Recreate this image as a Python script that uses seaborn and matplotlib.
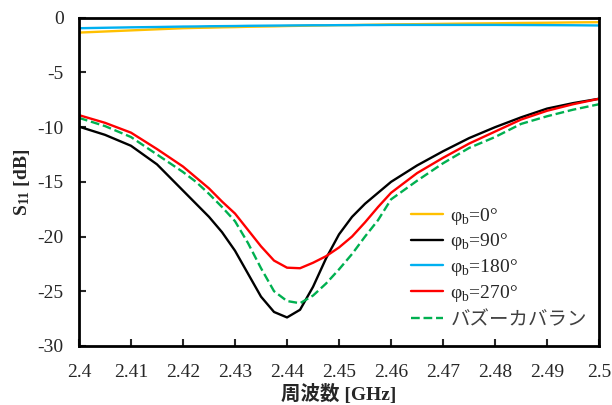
import numpy as np
import pandas as pd
import matplotlib
matplotlib.use("Agg")
import matplotlib.pyplot as plt
import seaborn as sns

# frequency points (GHz)
freq = [2.400, 2.405, 2.410, 2.415, 2.420, 2.4225, 2.425, 2.4275, 2.430, 2.4325,
        2.435, 2.4375, 2.440, 2.4425, 2.445, 2.4475, 2.450, 2.4525, 2.455, 2.4575,
        2.460, 2.465, 2.470, 2.475, 2.480, 2.485, 2.490, 2.495, 2.500]

s11_0 = [-1.35, -1.25, -1.15, -1.05, -0.95, -0.92, -0.90, -0.87, -0.85, -0.82,
         -0.80, -0.78, -0.75, -0.73, -0.71, -0.69, -0.67, -0.66, -0.64, -0.62,
         -0.60, -0.58, -0.55, -0.52, -0.50, -0.47, -0.45, -0.42, -0.40]
s11_90 = [-9.95, -10.7, -11.7, -13.4, -15.8, -17.0, -18.2, -19.6, -21.3, -23.4,
          -25.5, -26.9, -27.4, -26.7, -24.6, -22.0, -19.8, -18.2, -17.0, -16.0,
          -15.0, -13.5, -12.2, -11.0, -10.0, -9.1, -8.3, -7.8, -7.4]
s11_180 = [-0.95, -0.91, -0.87, -0.84, -0.80, -0.79, -0.77, -0.76, -0.75, -0.73,
           -0.72, -0.71, -0.70, -0.69, -0.68, -0.68, -0.67, -0.67, -0.66, -0.66,
           -0.65, -0.65, -0.65, -0.65, -0.65, -0.66, -0.67, -0.68, -0.70]
s11_270 = [-8.9, -9.6, -10.5, -12.0, -13.6, -14.6, -15.6, -16.8, -17.9, -19.4,
           -20.9, -22.2, -22.85, -22.9, -22.4, -21.8, -21.0, -20.0, -18.7, -17.3,
           -16.0, -14.2, -12.8, -11.5, -10.4, -9.3, -8.5, -7.9, -7.4]
s11_balun = [-9.15, -9.9, -10.9, -12.5, -14.1, -15.0, -16.1, -17.3, -18.6, -20.6,
             -22.9, -25.0, -25.9, -26.1, -25.4, -24.3, -23.0, -21.6, -20.0, -18.5,
             -16.6, -14.9, -13.3, -11.9, -10.9, -9.7, -9.0, -8.4, -7.9]

labels = ["φ$_\\mathrm{b}$=0°", "φ$_\\mathrm{b}$=90°", "φ$_\\mathrm{b}$=180°",
          "φ$_\\mathrm{b}$=270°", "バズーカバラン"]
colors = ["#FFC000", "#000000", "#00B0F0", "#FF0000", "#00B050"]
styles = ["-", "-", "-", "-", "--"]

sns.set_style("ticks")
plt.rcParams["font.family"] = ["Liberation Serif", "Noto Sans CJK JP"]
plt.rcParams["mathtext.fontset"] = "custom"
plt.rcParams["mathtext.rm"] = "Liberation Serif"
plt.rcParams["mathtext.bf"] = "Liberation Serif:bold"
plt.rcParams["axes.unicode_minus"] = False

fig = plt.figure(figsize=(6.12, 4.05), dpi=100)
ax = fig.add_axes([0.129, 0.146, 0.850, 0.810])

series = [s11_0, s11_90, s11_180, s11_270, s11_balun]
for vals, lab, col, ls in zip(series, labels, colors, styles):
    df = pd.DataFrame({"freq": freq, "s11": vals})
    sns.lineplot(data=df, x="freq", y="s11", ax=ax, color=col, linestyle=ls,
                 linewidth=1.7, label=lab)

ax.set_xlim(2.4, 2.5)
ax.set_ylim(-30, 0)
ax.set_xticks(np.arange(2.40, 2.501, 0.01))
ax.set_xticklabels(["2.4", "2.41", "2.42", "2.43", "2.44", "2.45", "2.46",
                    "2.47", "2.48", "2.49", "2.5"])
ax.set_yticks(np.arange(-30, 1, 5))
ax.tick_params(direction="in", length=5, width=1.5, labelsize=14)
ax.tick_params(axis="x", pad=13)
ax.tick_params(axis="y", pad=11)
for sp in ax.spines.values():
    sp.set_visible(True)
    sp.set_linewidth(2)
    sp.set_color("black")

ax.set_xlabel("周波数 [GHz]", fontsize=14, fontweight="bold", labelpad=2)
ax.set_ylabel("$\\mathbf{S_{11}}$ [dB]", fontsize=14, fontweight="bold", labelpad=4)

leg = ax.legend(loc="lower right", bbox_to_anchor=(1.01, -0.005), frameon=False,
                fontsize=14, handlelength=1.6, handletextpad=0.4, labelspacing=0.25)
for t in leg.get_texts():
    if "バ" in t.get_text():
        t.set_family(["Noto Sans CJK JP"])
        t.set_color("#404040")

fig.savefig("out.png", dpi=100)
